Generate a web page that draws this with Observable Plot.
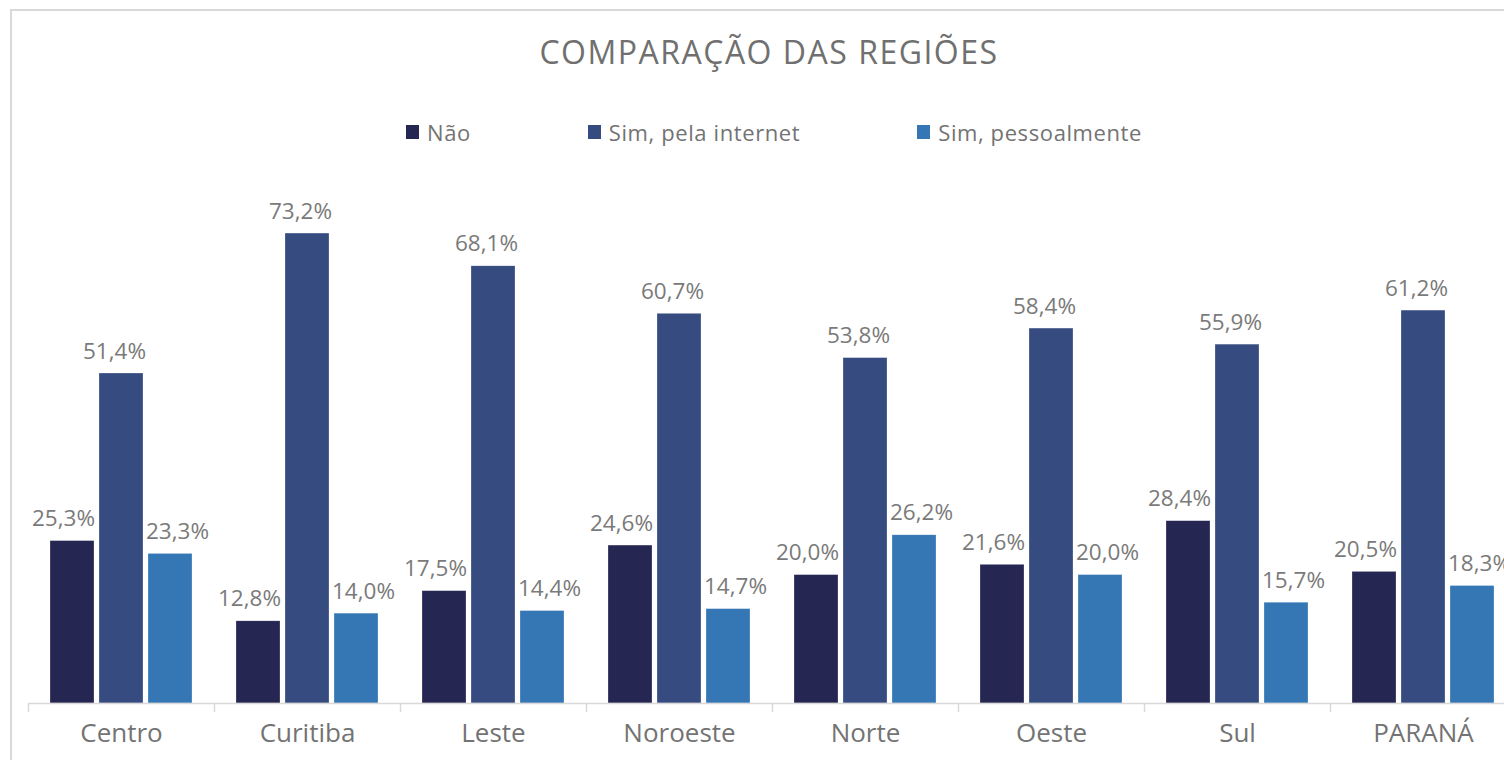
<!DOCTYPE html>
<html>
<head>
<meta charset="utf-8">
<script src="https://cdn.jsdelivr.net/npm/d3@7"></script>
<script src="https://cdn.jsdelivr.net/npm/@observablehq/plot@0.6"></script>
<style>
  html, body { margin: 0; padding: 0; width: 1504px; height: 760px; overflow: hidden; background: #fff; font-family: "Open Sans", sans-serif; }
  #frame { position: absolute; left: 10px; top: 9px; width: 1600px; height: 900px; border: 2px solid #d9d9d9; box-sizing: border-box; }
  #title { position: absolute; left: 0; top: 36px; width: 1538px; text-align: center; font-size: 32px; line-height: 32px; color: #707070; letter-spacing: 1.5px; }
  #legend { position: absolute; left: 0; top: 121px; width: 1548px; display: flex; justify-content: center; gap: 117px; font-size: 22px; line-height: 22px; color: #737373; }
  .item { display: flex; align-items: center; gap: 8px; letter-spacing: 0.6px; }
  .sw { width: 13px; height: 14px; display: inline-block; }
  #chart { position: absolute; left: 0; top: 0; width: 1520px; }
  #chart svg { max-width: none !important; }
</style>
</head>
<body>
<div id="frame"></div>
<div id="title">COMPARAÇÃO DAS REGIÕES</div>
<div id="legend"></div>
<div id="chart"></div>
<script>
const regions = ["Centro", "Curitiba", "Leste", "Noroeste", "Norte", "Oeste", "Sul", "PARANÁ"];
const series = ["Não", "Sim, pela internet", "Sim, pessoalmente"];
const nao = [25.3, 12.8, 17.5, 24.6, 20.0, 21.6, 28.4, 20.5];
const internet = [51.4, 73.2, 68.1, 60.7, 53.8, 58.4, 55.9, 61.2];
const pessoal = [23.3, 14.0, 14.4, 14.7, 26.2, 20.0, 15.7, 18.3];
const colors = ["#262652", "#364B7F", "#3577B4"];

const valuesBySeries = [nao, internet, pessoal];
const data = [];
regions.forEach((r, i) => {
  series.forEach((s, j) => data.push({region: r, serie: s, value: valuesBySeries[j][i]}));
});
const fmt = v => v.toFixed(1).replace(".", ",") + "%";

// legend
const legend = document.getElementById("legend");
series.forEach((s, j) => {
  const it = document.createElement("div");
  it.className = "item";
  const sw = document.createElement("span");
  sw.className = "sw";
  sw.style.background = colors[j];
  const t = document.createElement("span");
  t.textContent = s;
  it.append(sw, t);
  legend.append(it);
});

const textColor = "#7a7a7a";
const labelFor = (s, dx) => Plot.text(data.filter(d => d.serie === s), {
  fx: "region", x: "serie", y: "value", text: d => fmt(d.value),
  lineAnchor: "bottom", dy: -15, dx, fontSize: 22.5, fill: textColor,
  fontFamily: "Open Sans", letterSpacing: 0.3
});

const chart = Plot.plot({
  width: 1520,
  height: 760,
  marginTop: 189.4,
  marginBottom: 57,
  marginLeft: 28,
  marginRight: 4,
  style: {fontFamily: "Open Sans", background: "transparent", overflow: "visible", maxWidth: "none"},
  fx: {domain: regions, padding: 0, label: null},
  x: {domain: series, paddingInner: 0.111, paddingOuter: 0.434, axis: null},
  y: {domain: [0, 80], axis: null},
  color: {domain: series, range: colors},
  marks: [
    Plot.barY(data, {fx: "region", x: "serie", y: "value", fill: "serie", stroke: "#ffffff", strokeWidth: 0.5, strokeOpacity: 0.5}),
    Plot.ruleY([0], {stroke: "#d9d9d9", strokeWidth: 1.5}),
    Plot.axisFx({anchor: "bottom", tickSize: 9, text: null, dx: -93, stroke: "#d9d9d9", strokeWidth: 1.5, label: null}),
    Plot.axisFx({anchor: "bottom", tickSize: 0, tickPadding: 20, fontSize: 26, fill: "#737373", label: null, fontFamily: "Open Sans", letterSpacing: 0.4}),
    labelFor(series[0], -9),
    labelFor(series[1], -7),
    labelFor(series[2], 7)
  ]
});
document.getElementById("chart").append(chart);
</script>
</body>
</html>
